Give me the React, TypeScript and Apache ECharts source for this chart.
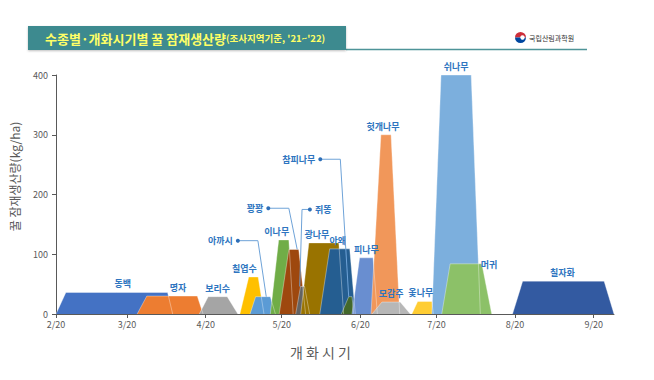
import React, { useEffect, useRef } from "react";
import * as echarts from "echarts";

// ---- data (days counted from 2/20) ----
const species = ["동백", "명자", "보리수", "칠엽수", "아까시", "이나무", "꽝꽝", "쥐똥", "광나무", "아왜", "참피나무", "피나무", "헛개나무", "모감주", "옻나무", "쉬나무", "머귀", "칠자화"];
const bloomStart = [0, 32, 56.5, 72.5, 76.5, 84.5, 88, 94.5, 96.5, 104, 112.5, 116.7, 124.2, 124.6, 140.3, 148.2, 152.1, 180];
const peakStart = [3.9, 35.8, 60, 76, 78.7, 87.8, 91.8, 96.4, 99.7, 107.9, 115.4, 119.7, 128.1, 128.5, 142.6, 151.8, 155.4, 184];
const peakEnd = [44, 55.7, 67.5, 79.7, 84.5, 91.8, 95.7, 98, 111.5, 115.8, 116.7, 125, 132.1, 135.7, 148.2, 163.7, 167.9, 216.1];
const bloomEnd = [46, 58, 71.7, 82, 86.5, 93.5, 98.4, 100, 113.4, 118, 117.4, 126.7, 135.5, 139.7, 148.8, 167.3, 171.8, 220];
const honeyYield = [36, 30, 29, 62, 29, 124, 108, 46, 119, 109, 29, 94, 300, 20, 21, 400, 84, 55];

const tickDays = [0, 28, 59, 89, 120, 150, 181, 212];
const tickLabels = ["2/20", "3/20", "4/20", "5/20", "6/20", "7/20", "8/20", "9/20"];

// leader-line annotations [day, value]
const leaderNames = ["아까시", "꽝꽝", "쥐똥", "참피나무"];
const leaderAkasi = [[71.7, 122.7], [79.6, 122.7], [82.9, 29]];
const leaderKkwang = [[83.7, 177], [91.8, 177], [95.1, 108]];
const leaderJwittong = [[100.1, 175], [97.0, 175], [96.1, 46]];
const leaderChampi = [[104.2, 259], [112.1, 259], [115.4, 29]];

// ---- styles ----
const colors = ["#4472C4", "#ED7D31", "#A5A5A5", "#FFC000", "#5B9BD5", "#70AD47", "#9E480E", "#636363", "#997300", "#255E91", "#43682B", "#698ED0", "#F1975A", "#B7B7B7", "#FFCD33", "#7CAFDD", "#8CC168", "#335AA1"];
const labelOffsets: Record<string, number[] | null> = {
  "동백": [6, 0], "명자": [6, 0], "보리수": [0, 0], "칠엽수": [-9, 0], "아까시": null, "이나무": [-7, 0],
  "꽝꽝": null, "쥐똥": null, "광나무": [-7, 0], "아왜": [-2, 0], "참피나무": null, "피나무": [0, 0],
  "헛개나무": [-3, 0], "모감주": [0, 0], "옻나무": [-4, 0], "쉬나무": [0, 0], "머귀": [23, 9], "칠자화": [-1, 0],
};
const leaderPos = ["left", "left", "right", "left"];
const FONT = "'Noto Sans CJK KR', 'Noto Sans', sans-serif";
const LABEL_COLOR = "#2E75C0";

export default function App() {
  const ref = useRef<HTMLDivElement>(null);
  useEffect(() => {
    if (!ref.current) return;
    const chart = echarts.init(ref.current, null, { renderer: "svg" });

    const areaSeries = species.map((name, i) => {
      const v = honeyYield[i];
      const off = labelOffsets[name];
      const mid = (peakStart[i] + peakEnd[i]) / 2;
      return {
        name,
        type: "line",
        symbol: "circle",
        symbolSize: 0,
        showSymbol: true,
        lineStyle: { width: 0.6, color: "rgba(255,255,255,0.6)" },
        itemStyle: { color: colors[i] },
        areaStyle: { color: colors[i], opacity: 1 },
        z: 2,
        data: [
          [bloomStart[i], 0],
          [peakStart[i], v],
          {
            value: [mid, v],
            label: off
              ? {
                  show: true,
                  position: "top",
                  distance: 4,
                  offset: off,
                  formatter: name,
                  color: LABEL_COLOR,
                  fontSize: 9,
                  fontWeight: "bold",
                  fontFamily: FONT,
                }
              : { show: false },
          },
          [peakEnd[i], v],
          [bloomEnd[i], 0],
        ],
      };
    });

    const leaders = [leaderAkasi, leaderKkwang, leaderJwittong, leaderChampi].map((pts, k) => ({
      name: "leader-" + leaderNames[k],
      type: "line",
      symbol: "circle",
      symbolSize: 0,
      showSymbol: true,
      z: 5,
      lineStyle: { width: 1, color: "#6FA3D8" },
      itemStyle: { color: "#2E6FB8" },
      data: [
        {
          value: pts[0],
          symbolSize: 4,
          label: {
            show: true,
            position: leaderPos[k],
            distance: 3,
            formatter: leaderNames[k],
            color: LABEL_COLOR,
            fontSize: 9,
            fontWeight: "bold",
            fontFamily: FONT,
          },
        },
        pts[1],
        pts[2],
      ],
    }));

    chart.setOption({
      animation: false,
      backgroundColor: "#ffffff",
      textStyle: { fontFamily: FONT },
      grid: { left: 55, right: 40, top: 75, bottom: 66, containLabel: false },
      xAxis: {
        type: "value",
        min: 0,
        max: 220,
        name: "개 화 시 기",
        nameLocation: "middle",
        nameGap: 31,
        nameTextStyle: { fontSize: 14, color: "#595959", padding: [0, 29, 0, 0], fontFamily: FONT },
        axisLine: { show: true, lineStyle: { color: "#595959", width: 1 } },
        axisTick: { show: true, length: 4, lineStyle: { color: "#595959" }, customValues: tickDays },
        axisLabel: {
          customValues: tickDays,
          fontSize: 9,
          color: "#595959",
          margin: 6,
          formatter: (val: number) => {
            const idx = tickDays.indexOf(Math.round(val));
            return idx >= 0 ? tickLabels[idx] : "";
          },
        },
        splitLine: { show: false },
      },
      yAxis: {
        type: "value",
        min: 0,
        max: 400,
        interval: 100,
        name: "꿀 잠재생산량(kg/ha)",
        nameLocation: "middle",
        nameRotate: 90,
        nameGap: 36,
        nameTextStyle: { fontSize: 12, color: "#595959", padding: [0, 0, 0, 36], fontFamily: FONT },
        axisLine: { show: true, lineStyle: { color: "#595959", width: 1 } },
        axisTick: { show: true, length: 4, inside: false, lineStyle: { color: "#595959" } },
        axisLabel: { fontSize: 9, color: "#595959", margin: 8 },
        splitLine: { show: false },
      },
      series: [...areaSeries, ...leaders],
      graphic: [
        {
          type: "line",
          shape: { x1: 346, y1: 49.5, x2: 587, y2: 49.5 },
          style: { stroke: "#4E9498", lineWidth: 1.5 },
        },
        {
          type: "rect",
          shape: { x: 28, y: 26, width: 318, height: 24 },
          style: { fill: "#3E8A8F", shadowBlur: 2, shadowColor: "rgba(0,0,0,0.25)", shadowOffsetY: 1 },
        },
        {
          type: "text",
          x: 45,
          y: 38,
          style: {
            text: "{a|수종별·개화시기별 꿀 잠재생산량}{b|(조사지역기준, '21~'22)}",
            verticalAlign: "middle",
            rich: {
              a: { fontSize: 13, fontWeight: "bold", fill: "#FFFF66", fontFamily: FONT },
              b: { fontSize: 9.5, fontWeight: "bold", fill: "#FFFF66", fontFamily: FONT },
            },
          },
        },
        {
          type: "sector",
          shape: { cx: 520.5, cy: 37.5, r: 5.5, r0: 0, startAngle: Math.PI, endAngle: Math.PI * 2 },
          style: { fill: "#CD2E3A" },
        },
        {
          type: "sector",
          shape: { cx: 520.5, cy: 37.5, r: 5.5, r0: 0, startAngle: 0, endAngle: Math.PI },
          style: { fill: "#0047A0" },
        },
        {
          type: "circle",
          shape: { cx: 522.5, cy: 37.5, r: 2.2 },
          style: { fill: "#ffffff" },
        },
        {
          type: "text",
          x: 529,
          y: 37.5,
          style: { text: "국립산림과학원", fontSize: 7, fill: "#333333", verticalAlign: "middle", fontFamily: FONT },
        },
      ],
    });
    return () => chart.dispose();
  }, []);
  return <div ref={ref} style={{ position: "fixed", left: 0, top: 0, width: 654, height: 380 }} />;
}
